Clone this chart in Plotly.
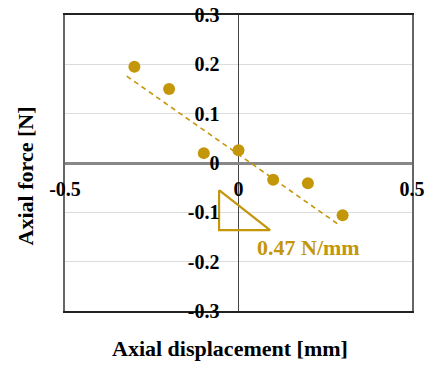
import plotly.graph_objects as go

# ---- data ----
disp = [-0.30, -0.20, -0.10, 0.00, 0.10, 0.20, 0.30]
force = [0.195, 0.150, 0.020, 0.026, -0.034, -0.041, -0.106]

trend_x = [-0.322, 0.291]
trend_y = [0.176, -0.126]

tri_x = [-0.056, -0.056, 0.091, -0.056]
tri_y = [-0.055, -0.136, -0.136, -0.055]

stiffness_label = "0.47 N/mm"
label_x = 0.048
label_y = -0.172

x_tickvals = [-0.5, 0, 0.5]
x_ticktext = ["-0.5", "0", "0.5"]
y_tickvals = [-0.3, -0.2, -0.1, 0, 0.1, 0.2, 0.3]
y_ticktext = ["-0.3", "-0.2", "-0.1", "0", "0.1", "0.2", "0.3"]

x_title = "Axial displacement [mm]"
y_title = "Axial force [N]"

GOLD = "#C4960A"
FONT = "Liberation Serif"

fig = go.Figure()

fig.add_trace(go.Scatter(x=trend_x, y=trend_y, mode="lines",
                         line=dict(color=GOLD, width=1.6, dash="5px,4px"),
                         showlegend=False, hoverinfo="skip"))
fig.add_trace(go.Scatter(x=disp, y=force, mode="markers",
                         marker=dict(color=GOLD, size=12),
                         showlegend=False))
fig.add_trace(go.Scatter(x=tri_x, y=tri_y, mode="lines",
                         line=dict(color=GOLD, width=2.2),
                         showlegend=False, hoverinfo="skip"))
# invisible trace to activate the crossing axes
fig.add_trace(go.Scatter(x=[0], y=[0], xaxis="x2", yaxis="y2", mode="markers",
                         marker=dict(opacity=0), showlegend=False, hoverinfo="skip"))

fig.add_annotation(x=label_x, y=label_y, xref="x", yref="y", text=stiffness_label,
                   showarrow=False, xanchor="left", yanchor="middle",
                   font=dict(family=FONT, size=22, color=GOLD, weight="bold"))

fig.add_annotation(x=0.475, y=-0.125, xref="paper", yref="paper", text=x_title,
                   showarrow=False, xanchor="center", yanchor="middle",
                   font=dict(family=FONT, size=22, color="black", weight="bold"))
fig.add_annotation(x=-0.115, y=0.455, xref="paper", yref="paper", text=y_title,
                   showarrow=False, xanchor="center", yanchor="middle", textangle=-90,
                   font=dict(family=FONT, size=22, color="black", weight="bold"))

tickfont = dict(family=FONT, size=20, color="black", weight="bold")

fig.update_layout(
    width=433, height=365,
    margin=dict(l=65, r=21, t=15, b=54, autoexpand=False),
    paper_bgcolor="white", plot_bgcolor="white",
    xaxis=dict(range=[-0.5, 0.5], showticklabels=False, showgrid=False, automargin=False,
               zeroline=True, zerolinecolor="#444", zerolinewidth=1,
               showline=True, mirror=True, linecolor="#222", linewidth=2, ticks=""),
    yaxis=dict(range=[-0.3, 0.3], dtick=0.1, tick0=0, showticklabels=False, automargin=False,
               showgrid=True, gridcolor="#dcdcdc", gridwidth=1,
               zeroline=True, zerolinecolor="#888", zerolinewidth=2.5,
               showline=True, mirror=True, linecolor="#666", linewidth=2, ticks=""),
    xaxis2=dict(overlaying="x", anchor="free", position=0.5, side="bottom", automargin=False,
                range=[-0.5, 0.5], tickmode="array", tickvals=x_tickvals, ticktext=x_ticktext,
                showgrid=False, zeroline=False, showline=False, ticks="",
                ticklabelstandoff=12, tickfont=tickfont),
    yaxis2=dict(overlaying="y", anchor="free", position=0.5, side="left", automargin=False,
                range=[-0.3, 0.3], tickmode="array", tickvals=y_tickvals, ticktext=y_ticktext,
                showgrid=False, zeroline=False, showline=False, ticks="",
                ticklabelstandoff=19, tickfont=tickfont),
)

fig.write_html("out.html", config={"displayModeBar": False},
               post_script="document.body.style.margin='0';")
